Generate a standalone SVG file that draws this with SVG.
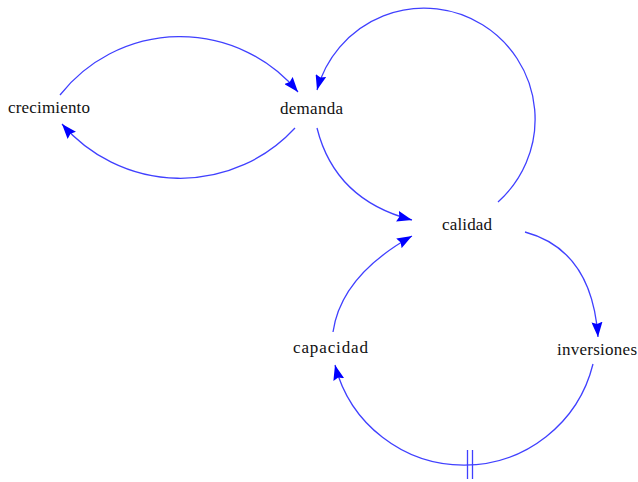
<svg xmlns="http://www.w3.org/2000/svg" width="638" height="482" viewBox="0 0 638 482">
<defs>
<marker id="ah" viewBox="0 0 15 11" refX="15" refY="5.5" markerWidth="15" markerHeight="11" markerUnits="userSpaceOnUse" orient="auto">
<path d="M0,0 L15,5.5 L0,11 L2,5.5 z" fill="#0000ff"/>
</marker>
<style>
.lnk{fill:none;stroke:#4040ff;stroke-width:1.3;marker-end:url(#ah)}
.lbl{font-family:"Liberation Serif","Times New Roman",serif;font-size:17px;fill:#111;text-anchor:middle}
.dl{stroke:#4040ff;stroke-width:1.3}
</style>
</defs>
<rect width="638" height="482" fill="#fff"/>
<g id="connectors">
<path class="lnk" d="M60,95 A153,153 0 0 1 298,92"/>
<path class="lnk" d="M295,128 A156,156 0 0 1 62,124"/>
<path class="lnk" d="M498,202 A111,111 0 1 0 317,90"/>
<path class="lnk" d="M317,128 Q335,200 412,220"/>
<path class="lnk" d="M333,332 Q341,276 412,236"/>
<path class="lnk" d="M525,232 Q592,250 598,337"/>
<path class="lnk" d="M593,364 A133,133 0 0 1 335,365"/>
<line class="dl" x1="467.5" y1="450" x2="467.5" y2="479"/>
<line class="dl" x1="472.5" y1="450" x2="472.5" y2="479"/>
</g>
<g id="crecimiento"><text class="lbl" x="49" y="113" textLength="82" lengthAdjust="spacing">crecimiento</text></g>
<g id="demanda"><text class="lbl" x="311.5" y="114" textLength="63" lengthAdjust="spacing">demanda</text></g>
<g id="calidad"><text class="lbl" x="467" y="230" textLength="50" lengthAdjust="spacing">calidad</text></g>
<g id="inversiones"><text class="lbl" x="597" y="355" textLength="80" lengthAdjust="spacing">inversiones</text></g>
<g id="capacidad"><text class="lbl" x="330.5" y="353" textLength="75" lengthAdjust="spacing">capacidad</text></g>
</svg>
